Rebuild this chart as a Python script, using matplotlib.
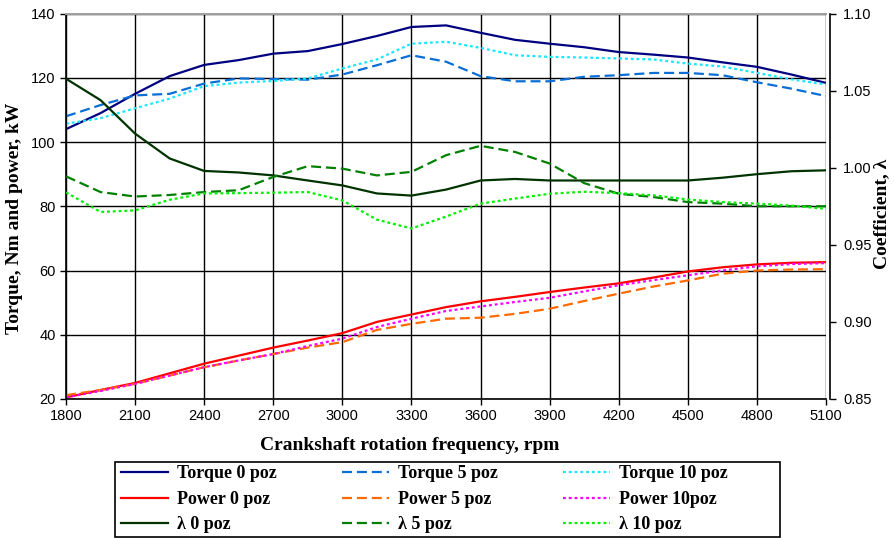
import matplotlib
matplotlib.use("Agg")
import matplotlib.pyplot as plt
from matplotlib.patches import Rectangle
from matplotlib.ticker import MultipleLocator, FormatStrFormatter

# Engine speed, rpm
rpm = [1800, 1950, 2100, 2250, 2400, 2550, 2700, 2850, 3000, 3150, 3300, 3450,
       3600, 3750, 3900, 4050, 4200, 4350, 4500, 4650, 4800, 4950, 5100]

# Torque, Nm
torque_0 = [104.0, 109.0, 115.0, 120.5, 124.0, 125.5, 127.5, 128.3, 130.5, 133.0, 135.8, 136.3,
            134.0, 131.8, 130.6, 129.5, 128.0, 127.2, 126.3, 124.8, 123.4, 121.0, 118.4]
torque_5 = [108.0, 111.5, 114.5, 115.0, 118.2, 119.8, 119.6, 119.4, 121.0, 123.9, 127.0, 125.0,
            120.5, 118.9, 118.9, 120.3, 120.8, 121.5, 121.5, 120.8, 118.6, 116.6, 114.3]
torque_10 = [105.7, 107.4, 110.5, 113.5, 117.4, 118.5, 119.0, 119.8, 122.9, 125.7, 130.6, 131.2,
             129.3, 127.0, 126.5, 126.3, 126.0, 125.7, 124.4, 123.5, 121.5, 119.5, 117.9]

# Power, kW
power_0 = [20.5, 22.8, 25.0, 28.0, 31.0, 33.5, 36.0, 38.2, 40.5, 44.0, 46.3, 48.6,
           50.4, 51.8, 53.3, 54.7, 56.0, 57.8, 59.7, 61.0, 61.9, 62.4, 62.6]
power_5 = [21.2, 22.8, 24.7, 27.3, 29.9, 32.0, 34.0, 36.0, 37.7, 41.5, 43.4, 45.0,
           45.3, 46.5, 48.1, 50.5, 52.8, 55.0, 56.9, 59.0, 60.0, 60.3, 60.4]
power_10 = [20.5, 22.5, 24.7, 27.3, 29.9, 32.0, 34.0, 36.5, 38.8, 42.4, 45.0, 47.4,
            48.8, 50.2, 51.5, 53.5, 55.4, 57.0, 58.5, 60.0, 61.3, 62.0, 62.3]

# Excess air coefficient, lambda
lambda_0 = [1.0577, 1.0438, 1.0221, 1.0060, 0.9979, 0.9969, 0.9950, 0.9917, 0.9885, 0.9833, 0.9819, 0.9858,
            0.9917, 0.9927, 0.9917, 0.9917, 0.9917, 0.9917, 0.9917, 0.9935, 0.9958, 0.9977, 0.9983]
lambda_5 = [0.9944, 0.9842, 0.9813, 0.9823, 0.9842, 0.9854, 0.9940, 1.0010, 0.9994, 0.9950, 0.9973, 1.0081,
            1.0142, 1.0102, 1.0027, 0.9900, 0.9831, 0.9810, 0.9777, 0.9767, 0.9750, 0.9750, 0.9750]
lambda_10 = [0.9840, 0.9713, 0.9723, 0.9792, 0.9833, 0.9835, 0.9838, 0.9842, 0.9788, 0.9663, 0.9606, 0.9683,
             0.9767, 0.9800, 0.9831, 0.9844, 0.9835, 0.9821, 0.9794, 0.9777, 0.9767, 0.9754, 0.9733]

x_ticks = list(range(1800, 5101, 300))

serif = ["Liberation Serif", "DejaVu Serif"]
sans = ["Liberation Sans", "DejaVu Sans"]
plt.rcParams["font.family"] = sans

W, H = 895, 538
fig = plt.figure(figsize=(W / 100, H / 100), dpi=100)
ax = fig.add_axes([66 / W, 1 - 399 / H, (826 - 66) / W, (399 - 13.5) / H])
ax2 = ax.twinx()

lw = 1.6
solid = "-"
dashed = (0, (4.5, 2.2))
dotted = (0, (1.3, 1.3))

h = {}
h["t0"], = ax.plot(rpm, torque_0, color="#000080", lw=lw, ls=solid)
h["t5"], = ax.plot(rpm, torque_5, color="#0A6ED6", lw=lw, ls=dashed)
h["t10"], = ax.plot(rpm, torque_10, color="#19E6FF", lw=lw, ls=dotted)
h["p0"], = ax.plot(rpm, power_0, color="#FF0000", lw=lw, ls=solid)
h["p5"], = ax.plot(rpm, power_5, color="#FF6A00", lw=lw, ls=dashed)
h["p10"], = ax.plot(rpm, power_10, color="#FF00FF", lw=lw, ls=dotted)
h["l0"], = ax2.plot(rpm, lambda_0, color="#003300", lw=lw, ls=solid)
h["l5"], = ax2.plot(rpm, lambda_5, color="#008000", lw=lw, ls=dashed)
h["l10"], = ax2.plot(rpm, lambda_10, color="#00F000", lw=lw, ls=dotted)

ax.set_xlim(1800, 5100)
ax.set_ylim(20, 140)
ax2.set_ylim(0.85, 1.10)
ax.set_xticks(x_ticks)
ax.yaxis.set_major_locator(MultipleLocator(20))
ax2.yaxis.set_major_locator(MultipleLocator(0.05))
ax2.yaxis.set_major_formatter(FormatStrFormatter("%.2f"))

ax.grid(True, color="black", lw=1.0)
ax.set_axisbelow(True)

for a in (ax, ax2):
    a.tick_params(direction="out", length=4.5, width=1, labelsize=10.5, colors="black", pad=3)
    a.spines["top"].set_color("#a0a0a0")
    a.spines["top"].set_linewidth(1.3)
ax2.tick_params(axis="y", pad=5)
ax.spines["right"].set_visible(False)
ax2.spines["left"].set_visible(False)
ax2.spines["bottom"].set_visible(False)
ax2.spines["right"].set_position(("outward", 3))
ax2.spines["right"].set_linewidth(1.2)
ax.spines["left"].set_linewidth(1.2)
ax.spines["bottom"].set_linewidth(1.2)

label_font = dict(family=serif, fontsize=14, fontweight="bold")
fig.text(410 / W, 1 - 446 / H, "Crankshaft rotation frequency, rpm",
         ha="center", va="center", **label_font)
fig.text(15 / W, 1 - 218 / H, "Torque, Nm and power, kW", rotation=90,
         ha="center", va="center", **label_font)
fig.text(882 / W, 1 - 214 / H, "Coefficient, λ", rotation=90,
         ha="center", va="center", **label_font)

# Legend box with its own frame
frame = Rectangle((115 / W, 1 - 537 / H), (780 - 115) / W, (537 - 462) / H,
                  transform=fig.transFigure, facecolor="white", edgecolor="black",
                  lw=1.2, zorder=1)
fig.patches.append(frame)

order = ["t0", "p0", "l0", "t5", "p5", "l5", "t10", "p10", "l10"]
labels = {"t0": "Torque 0 poz", "t5": "Torque 5 poz", "t10": "Torque 10 poz",
          "p0": "Power 0 poz", "p5": "Power 5 poz", "p10": "Power 10poz",
          "l0": "λ 0 poz", "l5": "λ 5 poz", "l10": "λ 10 poz"}
leg = fig.legend([h[k] for k in order], [labels[k] for k in order], ncol=3,
                 loc="upper left", bbox_to_anchor=(121 / W, 1 - 465.5 / H),
                 prop={"family": serif, "weight": "bold", "size": 13},
                 frameon=False, handlelength=2.6, handletextpad=0.5,
                 columnspacing=3.6, labelspacing=0.47, borderpad=0,
                 borderaxespad=0)
leg.set_zorder(2)

fig.savefig("out.png", dpi=100)
